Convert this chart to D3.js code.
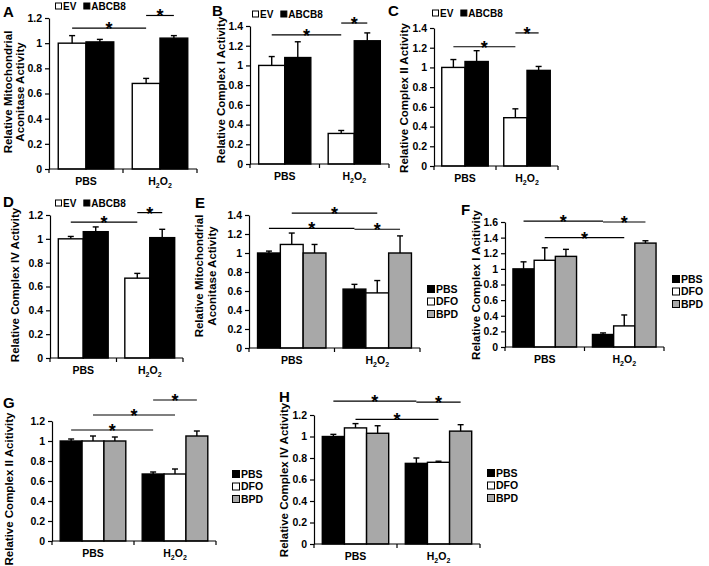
<!DOCTYPE html>
<html><head><meta charset="utf-8">
<script src="https://cdn.jsdelivr.net/npm/d3@7"></script>
<style>
body{margin:0;background:#fff}
svg{display:block}
text{font-family:"Liberation Sans",Arial,sans-serif;font-weight:bold;fill:#000}
</style>
</head><body><svg id="c" width="709" height="566"></svg>
<script>
// ---------- data ----------
const groups = ["PBS", "H2O2"];
const seriesABCB8 = ["EV", "ABCB8"];
const seriesDrug = ["PBS", "DFO", "BPD"];

const ticks12 = [0, 0.2, 0.4, 0.6, 0.8, 1, 1.2];
const ticks14 = [0, 0.2, 0.4, 0.6, 0.8, 1, 1.2, 1.4];
const ticks16 = [0, 0.2, 0.4, 0.6, 0.8, 1, 1.2, 1.4, 1.6];

// values indexed [group][series]
const aMean = [[1.00, 1.01], [0.68, 1.04]];
const aErr  = [[0.06, 0.02], [0.04, 0.02]];
const bMean = [[1.00, 1.08], [0.31, 1.25]];
const bErr  = [[0.09, 0.16], [0.03, 0.08]];
const cMean = [[1.00, 1.06], [0.49, 0.97]];
const cErr  = [[0.08, 0.11], [0.09, 0.04]];
const dMean = [[1.00, 1.06], [0.67, 1.01]];
const dErr  = [[0.02, 0.04], [0.04, 0.07]];
const eMean = [[1.00, 1.09, 1.00], [0.62, 0.58, 1.00]];
const eErr  = [[0.02, 0.12, 0.09], [0.05, 0.13, 0.18]];
const fMean = [[1.00, 1.11, 1.16], [0.16, 0.27, 1.33]];
const fErr  = [[0.09, 0.16, 0.09], [0.02, 0.14, 0.03]];
const gMean = [[1.00, 1.00, 1.00], [0.67, 0.67, 1.05]];
const gErr  = [[0.02, 0.05, 0.04], [0.02, 0.05, 0.05]];
const hMean = [[1.00, 1.08, 1.03], [0.75, 0.76, 1.05]];
const hErr  = [[0.02, 0.04, 0.07], [0.05, 0.01, 0.06]];

// significance brackets: [group1, series1, group2, series2, level]
const sigA = [[0, 0, 1, 0, 1.12], [1, 0, 1, 1, 1.22]];
const sigB = [[0, 0, 1, 0, 1.31], [1, 0, 1, 1, 1.43]];
const sigC = [[0, 0, 1, 0, 1.21], [1, 0, 1, 1, 1.35]];
const sigD = [[0, 0, 1, 0, 1.14], [1, 0, 1, 1, 1.22]];
const sigE = [[0, 1, 1, 1, 1.42], [0, 0, 1, 0, 1.26], [1, 0, 1, 2, 1.25]];
const sigF = [[0, 0, 1, 0, 1.61], [1, 0, 1, 2, 1.60], [0, 1, 1, 1, 1.40]];
const sigG = [[0, 0, 1, 0, 1.11], [0, 1, 1, 1, 1.26], [1, 0, 1, 2, 1.41]];
const sigH = [[0, 0, 1, 0, 1.33], [1, 0, 1, 2, 1.32], [0, 1, 1, 1, 1.16]];

const titleA = ["Relative Mitochondrial", "Aconitase Activity"];
const titleB = ["Relative Complex I Activity"];
const titleC = ["Relative Complex II Activity"];
const titleD = ["Relative Complex IV Activity"];
const titleE = ["Relative Mitochondrial", "Aconitase Activity"];
const titleF = ["Relative Complex I Acitivity"];
const titleG = ["Relative Complex II Acitivity"];
const titleH = ["Relative Complex IV Activity"];

const colorsABCB8 = ["#ffffff", "#000000"];
const colorsDrug = ["#000000", "#ffffff", "#a8a8a8"];

// ---------- layout ----------
const panels = [
  {id:"A", mean:aMean, err:aErr, series:seriesABCB8, colors:colorsABCB8, ticks:ticks12, title:titleA, sig:sigA,
   f:{x0:49, x1:197, yB:169, yT:18}, pad:0.25, letter:[3, 17], titleX:[8, 20], titleY:92, legend:{type:"top", x:55, y:6}},
  {id:"B", mean:bMean, err:bErr, series:seriesABCB8, colors:colorsABCB8, ticks:ticks14, title:titleB, sig:sigB,
   f:{x0:250, x1:389, yB:164, yT:26}, pad:0.25, letter:[212, 16], titleX:[221], titleY:90, legend:{type:"top", x:252, y:14}},
  {id:"C", mean:cMean, err:cErr, series:seriesABCB8, colors:colorsABCB8, ticks:ticks14, title:titleC, sig:sigC,
   f:{x0:434, x1:558, yB:166, yT:28}, pad:0.25, letter:[388, 16], titleX:[404], titleY:98, legend:{type:"top", x:432, y:13}},
  {id:"D", mean:dMean, err:dErr, series:seriesABCB8, colors:colorsABCB8, ticks:ticks12, title:titleD, sig:sigD,
   f:{x0:50, x1:183, yB:358, yT:215}, pad:0.25, letter:[3, 207], titleX:[15], titleY:285, legend:{type:"top", x:55, y:203}},
  {id:"E", mean:eMean, err:eErr, series:seriesDrug, colors:colorsDrug, ticks:ticks14, title:titleE, sig:sigE,
   f:{x0:249, x1:420, yB:348, yT:215}, pad:0.2, letter:[195, 208], titleX:[199, 212], titleY:276, legend:{type:"side", x:427, y:289}},
  {id:"F", mean:fMean, err:fErr, series:seriesDrug, colors:colorsDrug, ticks:ticks16, title:titleF, sig:sigF,
   f:{x0:505, x1:664, yB:347, yT:222}, pad:0.2, letter:[461, 215], titleX:[476], titleY:285, legend:{type:"side", x:672, y:279}},
  {id:"G", mean:gMean, err:gErr, series:seriesDrug, colors:colorsDrug, ticks:ticks12, title:titleG, sig:sigG,
   f:{x0:52, x1:216, yB:541, yT:421}, pad:0.2, letter:[3, 408], titleX:[9], titleY:489, legend:{type:"side", x:232, y:474}},
  {id:"H", mean:hMean, err:hErr, series:seriesDrug, colors:colorsDrug, ticks:ticks12, title:titleH, sig:sigH,
   f:{x0:314, x1:480, yB:544, yT:415}, pad:0.2, letter:[279, 402], titleX:[284], titleY:480, legend:{type:"side", x:487, y:473}}
];

const svg = d3.select("#c");
const fmt = d => d3.format("~g")(d);

function groupLabel(sel, name) {
  if (name === "H2O2") {
    sel.append("tspan").text("H");
    sel.append("tspan").text("2").attr("font-size", "7px").attr("dy", 3);
    sel.append("tspan").text("O").attr("dy", -3);
    sel.append("tspan").text("2").attr("font-size", "7px").attr("dy", 3);
  } else {
    sel.text(name);
  }
}

function drawPanel(p) {
  const g = svg.append("g");
  const f = p.f;
  const ymax = p.ticks[p.ticks.length - 1];
  const y = d3.scaleLinear().domain([0, ymax]).range([f.yB, f.yT]);
  const x = d3.scaleBand().domain(groups).range([f.x0, f.x1]).paddingInner(p.pad).paddingOuter(p.pad / 2);
  const xs = d3.scaleBand().domain(p.series).range([0, x.bandwidth()]);
  const cx = (gi, si) => x(groups[gi]) + xs(p.series[si]) + xs.bandwidth() / 2;

  const cells = [];
  groups.forEach((gr, gi) => p.series.forEach((s, si) =>
    cells.push({gi, si, v: p.mean[gi][si], e: p.err[gi][si]})));

  g.selectAll(".bar").data(cells).join("rect")
    .attr("x", d => x(groups[d.gi]) + xs(p.series[d.si]))
    .attr("y", d => y(d.v))
    .attr("width", xs.bandwidth())
    .attr("height", d => y(0) - y(d.v))
    .attr("fill", d => p.colors[d.si])
    .attr("stroke", "#000").attr("stroke-width", 1.4);

  g.selectAll(".eb").data(cells).join("line")
    .attr("x1", d => cx(d.gi, d.si)).attr("x2", d => cx(d.gi, d.si))
    .attr("y1", d => y(d.v)).attr("y2", d => y(d.v + d.e))
    .attr("stroke", "#000").attr("stroke-width", 1.4);
  g.selectAll(".ec").data(cells).join("line")
    .attr("x1", d => cx(d.gi, d.si) - 3).attr("x2", d => cx(d.gi, d.si) + 3)
    .attr("y1", d => y(d.v + d.e)).attr("y2", d => y(d.v + d.e))
    .attr("stroke", "#000").attr("stroke-width", 1.4);

  // y axis
  const ya = g.append("g").attr("transform", `translate(${f.x0},0)`)
    .call(d3.axisLeft(y).tickValues(p.ticks).tickFormat(fmt).tickSize(4).tickSizeOuter(0).tickPadding(3));
  ya.attr("font-family", null).attr("font-size", null);
  ya.selectAll("text").style("font-size", "10.5px");
  ya.selectAll("path,line").attr("stroke", "#000").attr("stroke-width", 1.2);

  // x axis
  g.append("line").attr("x1", f.x0).attr("x2", f.x1).attr("y1", f.yB).attr("y2", f.yB)
    .attr("stroke", "#000").attr("stroke-width", 1.2);
  [0, 1, 2].forEach(i => {
    const tx = f.x0 + i * x.step();
    g.append("line").attr("x1", tx).attr("x2", tx).attr("y1", f.yB).attr("y2", f.yB + 4)
      .attr("stroke", "#000").attr("stroke-width", 1.2);
  });
  groups.forEach(gr => {
    g.append("text").attr("x", x(gr) + x.bandwidth() / 2).attr("y", f.yB + 16)
      .attr("text-anchor", "middle").style("font-size", "10.5px")
      .call(s => groupLabel(s, gr));
  });

  // significance
  p.sig.forEach(s => {
    const xa = cx(s[0], s[1]), xb = cx(s[2], s[3]), ly = y(s[4]);
    g.append("line").attr("x1", xa).attr("x2", xb).attr("y1", ly).attr("y2", ly)
      .attr("stroke", "#000").attr("stroke-width", 1.2);
    g.append("text").attr("x", (xa + xb) / 2).attr("y", ly + 7).attr("text-anchor", "middle")
      .style("font-size", "18px").text("*");
  });

  // y title
  p.title.forEach((t, i) => {
    g.append("text").attr("transform", `translate(${p.titleX[i]},${p.titleY}) rotate(-90)`)
      .attr("text-anchor", "middle").attr("dy", "0.35em").style("font-size", "11.5px").text(t);
  });

  // panel letter
  g.append("text").attr("x", p.letter[0]).attr("y", p.letter[1]).style("font-size", "15px").text(p.id);

  // legend
  const L = p.legend;
  if (L.type === "top") {
    let lx = L.x;
    p.series.forEach((s, si) => {
      g.append("rect").attr("x", lx + 0.5).attr("y", L.y - 3).attr("width", 6).attr("height", 6)
        .attr("fill", p.colors[si]).attr("stroke", "#000").attr("stroke-width", 1);
      const t = g.append("text").attr("x", lx + 8).attr("y", L.y).attr("dy", "0.35em")
        .style("font-size", "10px").text(s);
      lx += 8 + t.node().getComputedTextLength() + 7;
    });
  } else {
    p.series.forEach((s, si) => {
      const ly = L.y + si * 12.5;
      g.append("rect").attr("x", L.x + 0.5).attr("y", ly - 3.5).attr("width", 7).attr("height", 7)
        .attr("fill", p.colors[si]).attr("stroke", "#000").attr("stroke-width", 1);
      g.append("text").attr("x", L.x + 9).attr("y", ly).attr("dy", "0.35em")
        .style("font-size", "10.5px").text(s);
    });
  }
}

panels.forEach(drawPanel);
</script>
</body></html>
